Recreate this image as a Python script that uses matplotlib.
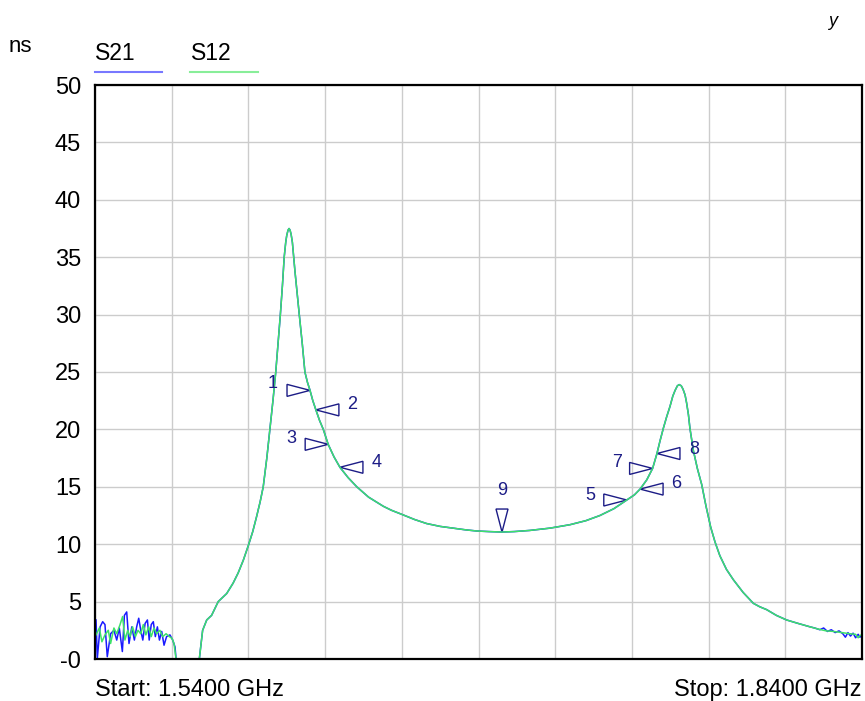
import numpy as np
import matplotlib
matplotlib.use("Agg")
import matplotlib.pyplot as plt
from matplotlib.patches import Polygon
from matplotlib import transforms

plt.rcParams['font.family'] = ['Liberation Sans', 'DejaVu Sans']

# Noisy start of the sweep (GHz, ns)
s21_noise_freq = [1.5404, 1.5409, 1.5420, 1.5430, 1.5439, 1.5448, 1.5461, 1.5474, 1.5485,
                  1.5495, 1.5507, 1.5515, 1.5524, 1.5533, 1.5544, 1.5554, 1.5563, 1.5571,
                  1.5579, 1.5587, 1.5596, 1.5605, 1.5612, 1.5620, 1.5628, 1.5636, 1.5644,
                  1.5652, 1.5661, 1.5670, 1.5680, 1.5693, 1.5704, 1.5713, 1.5717]
s21_noise_ns = [3.4, 0.05, 2.8, 3.25, 3.0, 0.2, 2.2, 2.5, 1.65,
                2.7, 0.65, 3.8, 4.1, 1.35, 2.8, 1.65, 2.8, 3.55,
                2.5, 1.65, 3.1, 3.4, 1.65, 3.0, 3.25, 1.95, 2.8,
                1.65, 2.4, 1.2, 1.95, 2.1, 1.65, 1.05, 0.0]

s12_noise_freq = [1.5404, 1.5417, 1.5427, 1.5439, 1.5452, 1.5461, 1.5474, 1.5485, 1.5498,
                  1.5508, 1.5517, 1.5528, 1.5537, 1.5547, 1.5558, 1.5568, 1.5579, 1.5589,
                  1.5599, 1.5610, 1.5620, 1.5631, 1.5641, 1.5654, 1.5665, 1.5678, 1.5691,
                  1.5701, 1.5709, 1.5717]
s12_noise_ns = [2.1, 2.7, 1.5, 2.1, 2.5, 1.35, 2.7, 2.2, 3.0,
                3.7, 1.65, 2.5, 1.95, 2.8, 1.95, 2.5, 2.2, 3.0,
                2.1, 2.8, 1.95, 2.7, 2.2, 2.5, 1.95, 2.2, 1.95,
                1.8, 1.35, 0.0]

# Common smooth part of both traces
main_freq = [1.5808, 1.5821, 1.5837, 1.5856, 1.5882, 1.5915, 1.5940, 1.5960, 1.5980,
             1.6000, 1.6017, 1.6032, 1.6046, 1.6058, 1.6072, 1.6084, 1.6096, 1.6107,
             1.6116, 1.6125, 1.6133, 1.6140, 1.6146, 1.6150, 1.6155, 1.6159, 1.6163,
             1.6167, 1.6172, 1.6176, 1.6182, 1.6189, 1.6199, 1.6211, 1.6221, 1.6231,
             1.6241, 1.6252, 1.6264, 1.6278, 1.6293, 1.6312, 1.6335, 1.6358, 1.6390,
             1.6424, 1.6470, 1.6528, 1.6560, 1.6600, 1.6650, 1.6697, 1.6750, 1.6801,
             1.6850, 1.6893, 1.6940, 1.6992, 1.7040, 1.7101, 1.7180, 1.7258, 1.7320,
             1.7375, 1.7430, 1.7480, 1.7510, 1.7532, 1.7558, 1.7581, 1.7598, 1.7610,
             1.7623, 1.7636, 1.7649, 1.7660, 1.7669, 1.7678, 1.7685, 1.7693, 1.7700,
             1.7708, 1.7714, 1.7721, 1.7727, 1.7740, 1.7756, 1.7773, 1.7790, 1.7808,
             1.7825, 1.7844, 1.7870, 1.7897, 1.7935, 1.7975, 1.8000, 1.8027, 1.8065,
             1.8105, 1.8150, 1.8197]
main_ns = [0.0, 2.5, 3.4, 3.8, 5.0, 5.7, 6.6, 7.5, 8.6,
           9.9, 11.1, 12.4, 13.7, 15.0, 17.5, 20.0, 22.5, 25.0,
           27.5, 30.0, 32.5, 35.0, 36.3, 36.9, 37.35, 37.5, 37.35,
           37.0, 36.3, 35.3, 33.8, 32.2, 30.0, 27.4, 25.0, 24.1,
           23.4, 22.5, 21.7, 20.8, 20.0, 18.7, 17.6, 16.7, 15.8,
           15.0, 14.1, 13.3, 12.95, 12.6, 12.15, 11.8, 11.55, 11.4,
           11.25, 11.15, 11.1, 11.06, 11.1, 11.2, 11.4, 11.7, 12.05,
           12.5, 13.1, 13.85, 14.3, 14.8, 15.6, 16.6, 17.9, 19.0,
           20.1, 21.1, 22.0, 22.9, 23.4, 23.8, 23.9, 23.8, 23.5,
           23.0, 22.3, 21.3, 20.1, 18.2, 16.6, 15.2, 13.3, 11.5,
           10.2, 9.0, 7.8, 6.9, 5.8, 4.85, 4.55, 4.3, 3.8,
           3.4, 3.1, 2.8]

# Tails with a little jitter
s21_tail_freq = [1.8215, 1.8235, 1.8250, 1.8265, 1.8280, 1.8295, 1.8310, 1.8325, 1.8335,
                 1.8345, 1.8355, 1.8365, 1.8375, 1.8385, 1.8392, 1.8400]
s21_tail_ns = [2.7, 2.55, 2.7, 2.4, 2.55, 2.3, 2.45, 2.2, 1.9,
               2.3, 2.0, 2.25, 1.85, 2.15, 1.9, 2.1]
s12_tail_freq = [1.8230, 1.8260, 1.8289, 1.8320, 1.8353, 1.8375, 1.8385, 1.8392, 1.8400]
s12_tail_ns = [2.6, 2.45, 2.4, 2.3, 2.2, 2.15, 1.85, 2.05, 2.1]

# Markers
marker_ids = ['1', '2', '3', '4', '5', '6', '7', '8', '9']
marker_freq = [1.6241, 1.6264, 1.6312, 1.6358, 1.7480, 1.7532, 1.7581, 1.7598, 1.6992]
marker_ns = [23.4, 21.7, 18.7, 16.7, 13.85, 14.8, 16.6, 17.9, 11.06]
marker_dir = ['r', 'l', 'r', 'l', 'r', 'l', 'r', 'l', 'd']

s21 = (list(s21_noise_freq) + list(main_freq) + s21_tail_freq,
       list(s21_noise_ns) + list(main_ns) + s21_tail_ns)
s12 = (list(s12_noise_freq) + list(main_freq) + s12_tail_freq,
       list(s12_noise_ns) + list(main_ns) + s12_tail_ns)

blue = '#1a1aff'
green = '#3ee26a'
navy = '#1c1c86'

fig = plt.figure(figsize=(8.65, 7.01), dpi=100, facecolor='white')
ax = fig.add_axes([95 / 865, 42 / 701, 767 / 865, 574 / 701])

ax.plot(s21[0], s21[1], color=blue, lw=1.1)
ax.plot(s12[0], s12[1], color=green, lw=1.1)

ax.set_xlim(1.54, 1.84)
ax.set_ylim(0, 50)
ax.set_xticks(np.linspace(1.54, 1.84, 11))
ax.set_xticklabels([])
ax.set_yticks(range(0, 51, 5))
ax.set_yticklabels(['-0'] + [str(v) for v in range(5, 51, 5)], fontsize=17)
ax.tick_params(length=0, pad=10)
ax.grid(True, color='#cccccc', lw=1)
ax.set_axisbelow(True)
for sp in ax.spines.values():
    sp.set_linewidth(1.6)
    sp.set_color('black')

# marker triangles (inches relative to the tip)
L, H = 0.23, 0.06
shapes = {'r': [(-L, H), (-L, -H), (0, 0)],
          'l': [(L, H), (L, -H), (0, 0)],
          'd': [(-H, L), (H, L), (0, 0)]}
label_off = {'1': (-37, 7), '2': (36, 5), '3': (-37, 6), '4': (37, 5), '5': (-36, 5),
             '6': (36, 6), '7': (-36, 6), '8': (37, 4), '9': (0, 42)}
for mid, f, v, d in zip(marker_ids, marker_freq, marker_ns, marker_dir):
    tr = fig.dpi_scale_trans + transforms.ScaledTranslation(f, v, ax.transData)
    ax.add_patch(Polygon(shapes[d], closed=True, fill=False, ec=navy, lw=1.0,
                         transform=tr, clip_on=False))
    ax.annotate(mid, (f, v), xytext=label_off[mid], textcoords='offset pixels',
                ha='center', va='center', fontsize=13, color=navy)

# header and footer text
fig.text(9 / 865, 1 - 46 / 701, 'ns', fontsize=16, va='center')
fig.text(95 / 865, 1 - 53 / 701, 'S21', fontsize=16.5, va='center')
fig.text(191 / 865, 1 - 53 / 701, 'S12', fontsize=16.5, va='center')
fig.add_artist(plt.Line2D([95 / 865, 162 / 865], [1 - 72 / 701] * 2, color='#7878ff', lw=1.5))
fig.add_artist(plt.Line2D([190 / 865, 258 / 865], [1 - 72 / 701] * 2, color='#88ee99', lw=1.5))
fig.text(833 / 865, 1 - 21 / 701, 'y', fontsize=13, style='italic', va='center', ha='center')
fig.text(95 / 865, 1 - 690 / 701, 'Start: 1.5400 GHz', fontsize=17, va='center', ha='left')
fig.text(862 / 865, 1 - 690 / 701, 'Stop: 1.8400 GHz', fontsize=17, va='center', ha='right')

fig.savefig('out.png', dpi=100, facecolor='white')
